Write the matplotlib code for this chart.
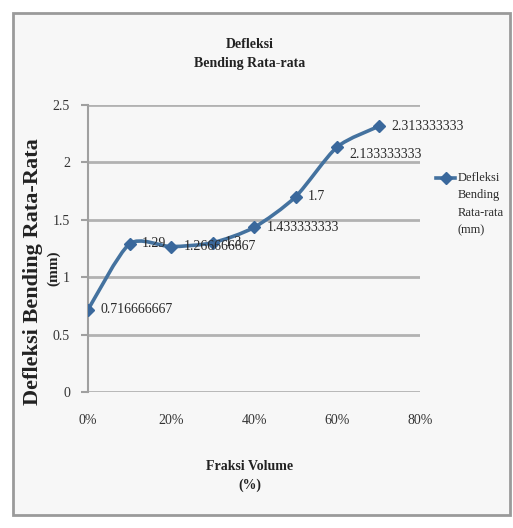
import numpy as np
import matplotlib.pyplot as plt
from matplotlib.path import Path
from matplotlib.patches import PathPatch, Rectangle
from matplotlib.lines import Line2D

# Data lendutan rata-rata terhadap fraksi volume
fraksi = [0.0, 0.1, 0.2, 0.3, 0.4, 0.5, 0.6, 0.7]
defleksi = [0.716666667, 1.29, 1.266666667, 1.3, 1.433333333, 1.7, 2.133333333, 2.313333333]
label_titik = ["0.716666667", "1.29", "1.266666667", "1.3", "1.433333333", "1.7",
               "2.133333333", "2.313333333"]
x_ticks = [0.0, 0.2, 0.4, 0.6, 0.8]
x_ticklabels = ["0%", "20%", "40%", "60%", "80%"]
y_ticks = [0, 0.5, 1, 1.5, 2, 2.5]
y_ticklabels = ["0", "0.5", "1", "1.5", "2", "2.5"]

plt.rcParams["font.family"] = ["Liberation Serif", "DejaVu Serif"]
warna = "#44729f"

fig = plt.figure(figsize=(5.13, 5.28), dpi=100)
fig.patch.set_facecolor("white")

# kotak area grafik (di belakang axes)
fig.patches.append(Rectangle((13 / 513, 13 / 528), 497 / 513, 502 / 528,
                             transform=fig.transFigure, facecolor="#f7f7f7",
                             edgecolor="#9a9a9a", linewidth=2, zorder=-5))

ax = fig.add_axes([88 / 513, 1 - 392 / 528, 332 / 513, 287 / 528])
ax.set_facecolor("#f7f7f7")
ax.set_xlim(0, 0.8)
ax.set_ylim(0, 2.5)

for yv in y_ticks:
    ax.axhline(yv, color="#b2b2b2", linewidth=2, zorder=1)
for s in ["top", "right", "bottom"]:
    ax.spines[s].set_visible(False)
ax.spines["left"].set_color("#a0a0a0")
ax.spines["left"].set_linewidth(1.5)

ax.set_xticks(x_ticks)
ax.set_xticklabels(x_ticklabels)
ax.set_yticks(y_ticks)
ax.set_yticklabels(y_ticklabels)
ax.tick_params(axis="x", length=0, pad=16, labelsize=10, labelcolor="#333333")
ax.tick_params(axis="y", length=5, width=1.5, color="#a0a0a0", pad=8,
               labelsize=10, labelcolor="#333333")

# garis halus (kurva Bezier melalui titik data)
pts = np.column_stack([fraksi, defleksi])
verts = [pts[0]]
codes = [Path.MOVETO]
n = len(pts)
for i in range(n - 1):
    p0 = pts[max(i - 1, 0)]
    p1 = pts[i]
    p2 = pts[i + 1]
    p3 = pts[min(i + 2, n - 1)]
    c1 = p1 + (p2 - p0) / 8
    c2 = p2 - (p3 - p1) / 8
    verts += [c1, c2, p2]
    codes += [Path.CURVE4] * 3
ax.add_patch(PathPatch(Path(verts, codes), facecolor="none", edgecolor=warna,
                       linewidth=2.6, zorder=3))
ax.plot(fraksi, defleksi, linestyle="none", marker="D", markersize=6,
        color="#3a689c", zorder=4)

for xv, yv, t in zip(fraksi, defleksi, label_titik):
    dy = -5 if t == "2.133333333" else 0
    ax.annotate(t, (xv, yv), xytext=(9, dy), textcoords="offset points",
                ha="left", va="center", fontsize=10, color="#2a2a2a", zorder=5)

fig.text(250 / 513, 1 - 45 / 528, "Defleksi", ha="center", va="center",
         fontsize=10, fontweight="bold", color="#222222")
fig.text(250 / 513, 1 - 63 / 528, "Bending Rata-rata", ha="center", va="center",
         fontsize=10, fontweight="bold", color="#222222")

fig.text(250 / 513, 1 - 466 / 528, "Fraksi Volume", ha="center", va="center",
         fontsize=10, fontweight="bold", color="#222222")
fig.text(250 / 513, 1 - 485 / 528, "(%)", ha="center", va="center",
         fontsize=10, fontweight="bold", color="#222222")

fig.text(33 / 513, 1 - 272 / 528, "Defleksi Bending Rata-Rata", rotation=90,
         ha="center", va="center", fontsize=16, fontweight="bold", color="#222222")
fig.text(54 / 513, 1 - 268 / 528, "(mm)", rotation=90,
         ha="center", va="center", fontsize=11, fontweight="bold", color="#222222")

# legenda
fig.add_artist(Line2D([436 / 513, 445.5 / 513, 455 / 513],
                      [1 - 178 / 528] * 3,
                      transform=fig.transFigure, color=warna, linewidth=2.6,
                      marker="D", markersize=6, markevery=[1],
                      markerfacecolor="#3a689c", markeredgecolor="#3a689c"))
fig.text(458 / 513, 1 - 204 / 528, "Defleksi\nBending\nRata-rata\n(mm)",
         ha="left", va="center", fontsize=9, color="#2a2a2a", linespacing=1.6)

fig.savefig("out.png", dpi=100)
